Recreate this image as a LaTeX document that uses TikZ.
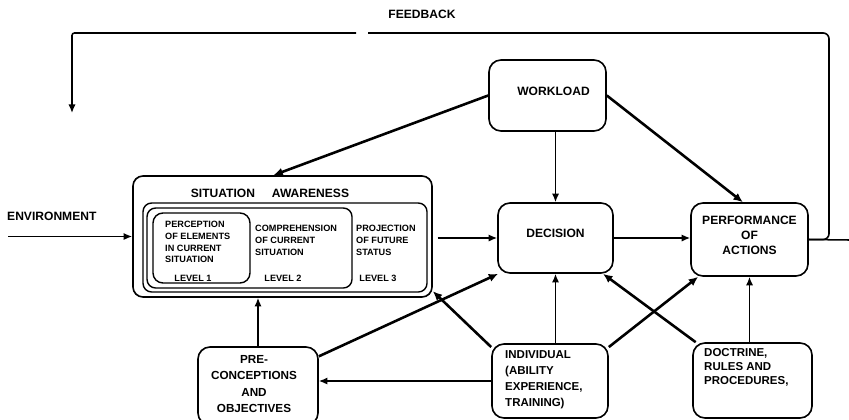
\documentclass[tikz,border=0pt]{standalone}
\usepackage{fontspec}
\setmainfont{Liberation Sans}
\usetikzlibrary{arrows.meta,fit}
\tikzset{
    box/.style={draw, line width=1.4pt, rounded corners=0.36cm, inner sep=0pt},
    levelbox/.style={draw, line width=1.2pt, rounded corners=0.26cm, inner sep=0pt},
    big/.style={font=\fontsize{10.3}{13}\selectfont\bfseries},
    small/.style={font=\fontsize{7.8}{10}\selectfont\bfseries},
    thinarrow/.style={-{Latex[length=2.6mm,width=2.2mm]}, line width=1.3pt},
    thickarrow/.style={-{Latex[length=2.8mm,width=2.5mm]}, line width=2.2pt},
}
\begin{document}
\begin{tikzpicture}[x=0.03cm, y=-0.03cm]
        \useasboundingbox (0,0) rectangle (849,419);
        \clip (0,0) rectangle (849,419);
        % boxes
        \node[box, fit={(489,60) (606,131)}, big] (workload) {\hspace{1em}WORKLOAD};
        \node[box, fit={(133,176) (432,297)}, rounded corners=0.3cm] (sa) {};
        \node[levelbox, fit={(143,203) (427,292)}] (lvthree) {};
        \node[levelbox, fit={(147,208) (352,288)}] (lvtwo) {};
        \node[levelbox, fit={(153,213) (250,283)}, rounded corners=0.3cm] (lvone) {};
        \node[box, fit={(498,203) (613,273)}, big] (decision) {DECISION};
        \node[box, fit={(691,203) (808,276)}, big, align=center] (perf) {PERFORMANCE\\OF\\ACTIONS};
        \node[box, fit={(198,347) (318,425)}] (pre) {};
        \node[box, fit={(492,344) (608,418)}] (individual) {};
        \node[box, fit={(693,343) (812,418)}] (doctrine) {};
        \node[font=\fontsize{10}{14}\selectfont\bfseries, align=center, anchor=north, inner sep=0pt] (pretext) at (254,355) {PRE-\\CONCEPTIONS\\AND\\OBJECTIVES};
        \node[font=\fontsize{9.8}{13.8}\selectfont\bfseries, align=left, anchor=north west, inner sep=0pt] (indtext) at (505,350) {INDIVIDUAL\\(ABILITY\\EXPERIENCE,\\TRAINING)};
        \node[font=\fontsize{9.8}{12}\selectfont\bfseries, align=left, anchor=north west, inner sep=0pt] (doctext) at (704,348) {DOCTRINE,\\RULES AND\\PROCEDURES,};
        % situation awareness texts
        \node[big] (satitle) at (270,193) {SITUATION\hspace{1.4em}AWARENESS};
        \node[small, align=left, anchor=north west, inner sep=0pt] (pertext) at (165,221) {PERCEPTION\\OF ELEMENTS\\IN CURRENT\\SITUATION};
        \node[small, align=left, anchor=north west, inner sep=0pt] (comtext) at (255,225) {COMPREHENSION\\OF CURRENT\\SITUATION};
        \node[small, align=left, anchor=north west, inner sep=0pt] (protext) at (356,225) {PROJECTION\\OF FUTURE\\STATUS};
        \foreach \n/\x in {1/193, 2/283, 3/378}{
                \node[small] (level\n) at (\x,278) {LEVEL \n};
            }
        % environment and feedback
        \node[big, anchor=west, inner sep=0pt] (env) at (7,216) {ENVIRONMENT};
        \node[big] (fb) at (422,14) {FEEDBACK};
        \coordinate (envstart) at (8,236.5);
        \coordinate (out) at (849,240);
        \coordinate (fbright) at (829,33);
        \coordinate (gapright) at (368,33);
        \coordinate (gapleft) at (356,33);
        \coordinate (fbleft) at (72,33);
        \coordinate (fbend) at (72,113);
        \draw[thinarrow] (envstart) -- (sa.west);
        \draw[line width=1.3pt] (perf.east) -- (out);
        \draw[line width=1.4pt, rounded corners=5pt] (perf.east) -- (perf.east -| fbright) -- (fbright) -- (gapright);
        \draw[thinarrow, rounded corners=2pt] (gapleft) -- (fbleft) -- (fbend);
        % connectors
        \draw[thickarrow] (workload.west) -- ([xshift=-0.27cm]sa.north);
        \draw[thinarrow] (decision.north |- workload.south) -- (decision.north);
        \draw[thickarrow] (workload.east) -- ([xshift=-0.2cm]perf.north);
        \draw[thinarrow] ([xshift=4pt]sa.east |- decision.west) -- (decision.west);
        \draw[thinarrow] (decision.east) -- (perf.west |- decision.east);
        \draw[thinarrow] (pre.north) -- (pre.north |- sa.south);
        \draw[thickarrow] (pre.26) -- (decision.212);
        \draw[thinarrow] (individual.west) -- (individual.west -| pre.east);
        \draw[thickarrow] (individual.150) -- (sa.-20);
        \draw[thinarrow] (decision.south |- individual.north) -- (decision.south);
        \draw[thickarrow] (individual.30) -- (perf.216);
        \draw[thickarrow] (doctrine.146) -- (decision.323);
        \draw[thinarrow] (perf.south |- doctrine.north) -- (perf.south);
    \end{tikzpicture}
\end{document}
